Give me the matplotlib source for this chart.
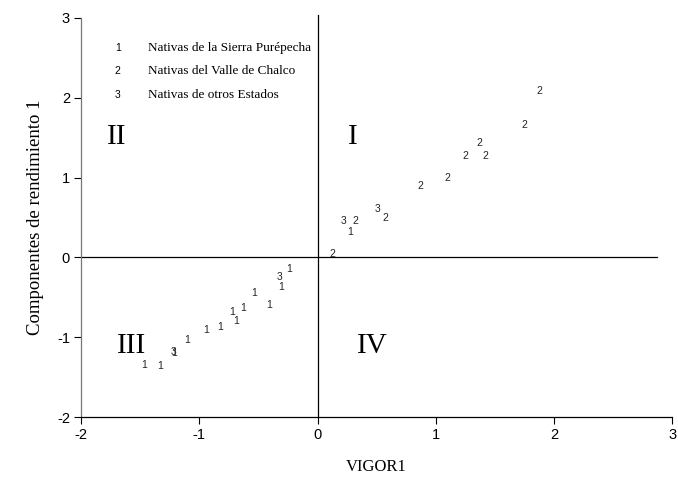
import matplotlib.pyplot as plt

# data: (VIGOR1, Componentes de rendimiento 1, group)
vigor = [1.88, 1.75, 1.37, 1.25, 1.42, 1.10, 0.87, 0.51, 0.57, 0.22, 0.32, 0.28,
         0.125, -0.24, -0.32, -0.31, -0.54, -0.41, -0.63, -0.72, -0.69, -0.82,
         -0.94, -1.10, -1.22, -1.21, -1.33, -1.47]
rend = [2.09, 1.66, 1.44, 1.27, 1.27, 1.00, 0.89, 0.61, 0.50, 0.46, 0.46, 0.32,
        0.04, -0.14, -0.25, -0.37, -0.45, -0.60, -0.63, -0.68, -0.79, -0.87,
        -0.91, -1.03, -1.19, -1.20, -1.36, -1.35]
grupo = ['2', '2', '2', '2', '2', '2', '2', '3', '2', '3', '2', '1',
         '2', '1', '3', '1', '1', '1', '1', '1', '1', '1',
         '1', '1', '3', '1', '1', '1']

leyenda_num = ['1', '2', '3']
leyenda_txt = ['Nativas de la Sierra Purépecha', 'Nativas del Valle de Chalco',
               'Nativas de otros Estados']

cuadrantes = ['II', 'I', 'III', 'IV']
cuad_x = [-1.70, 0.30, -1.57, 0.46]
cuad_y = [1.51, 1.51, -1.11, -1.11]

serif = 'Liberation Serif'
sans = 'Liberation Sans'

fig = plt.figure(figsize=(6.78, 4.80), dpi=100)
ax = fig.add_axes([0.1195, 0.131, 0.872, 0.8315])
ax.set_xlim(-2, 3)
ax.set_ylim(-2, 3)

# reference lines through the origin
ax.plot([0, 0], [-2, 3.04], color='black', lw=0.9, clip_on=False)
ax.plot([-2, 2.87], [0, 0], color='black', lw=0.9)

for x, y, g in zip(vigor, rend, grupo):
    ax.text(x, y, g, fontsize=7.5, family=sans, color='#222222',
            ha='center', va='center')

for q, x, y in zip(cuadrantes, cuad_x, cuad_y):
    ax.text(x, y, q, fontsize=21, family=serif, ha='center', va='center')

for i, (n, t) in enumerate(zip(leyenda_num, leyenda_txt)):
    yy = 2.63 - i * 0.295
    ax.text(-1.69, yy, n, fontsize=7.5, family=sans, ha='center', va='center')
    ax.text(-1.43, yy, t, fontsize=9.5, family=serif, ha='left', va='center')

ax.spines['top'].set_visible(False)
ax.spines['right'].set_visible(False)
ax.spines['left'].set_color('#777777')
ax.spines['bottom'].set_color('black')
ax.spines['left'].set_linewidth(0.9)
ax.spines['bottom'].set_linewidth(0.9)

ax.set_xticks([-2, -1, 0, 1, 2, 3])
ax.set_yticks([-2, -1, 0, 1, 2, 3])
ax.set_xticklabels(['-2', '-1', '0', '1', '2', '3'], family=sans, fontsize=10.5)
ax.set_yticklabels(['-2', '-1', '0', '1', '2', '3'], family=sans, fontsize=10.5)
ax.tick_params(direction='out', length=5, width=0.8, pad=3)

ax.set_xlabel('VIGOR1', family=serif, fontsize=12, labelpad=12)
ax.set_ylabel('Componentes de rendimiento 1', family=serif, fontsize=13.5, labelpad=9)

fig.savefig('out.png', dpi=100)
